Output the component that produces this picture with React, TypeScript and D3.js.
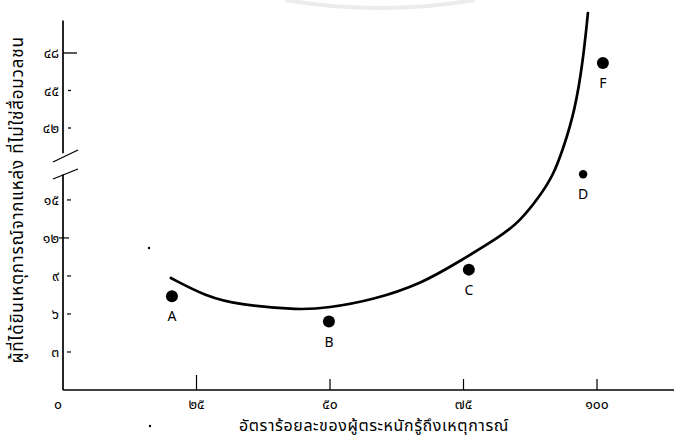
import React from "react";
import * as d3 from "d3";

const W = 674;
const H = 439;

const xTickValues = [0, 25, 50, 75, 100];
const xTickLabels = ["๐", "๒๕", "๕๐", "๗๕", "๑๐๐"];
const yLowTickValues = [3, 6, 9, 12, 15];
const yLowTickLabels = ["๓", "๖", "๙", "๑๒", "๑๕"];
const yHighTickValues = [42, 45, 48];
const yHighTickLabels = ["๔๒", "๔๕", "๔๘"];

const pointNames = ["A", "B", "C", "D", "F"];
const pointX = [20.4, 49.8, 76.0, 97.4, 101.1];
const pointY = [7.4, 5.4, 9.5, 17.4, 47.2];
const pointR = [6, 6, 6, 4.2, 6];

const curveX = [20.2, 26.9, 33.1, 44.4, 49.4, 58.1, 67.4, 73.7, 81.8, 85.6, 89.3, 91.8, 93.6, 95.9, 97.4, 98.3];
const curveY = [8.84, 7.36, 6.71, 6.31, 6.47, 7.1, 8.45, 10.02, 12.07, 13.33, 15.3, 16.95, 40.24, 43.44, 47.44, 51.2];

const xTitle = "อัตราร้อยละของผู้ตระหนักรู้ถึงเหตุการณ์";
const yTitle = "ผู้ที่ได้ยินเหตุการณ์จากแหล่ง ที่ไม่ใช่สื่อมวลชน";

const FONT = "'Noto Sans Thai', 'Loma', 'Garuda', 'Tlwg Typo', 'DejaVu Sans', sans-serif";

export default function App() {
  const x = d3.scaleLinear().domain([0, 100]).range([63, 597]);
  // broken axis: lower segment 0..17, gap, upper segment 40..51
  const y = d3.scaleLinear().domain([0, 17, 40, 51]).range([390, 174.6, 153, 15.5]);

  const line = d3
    .line<number>()
    .x((_, i) => x(curveX[i]))
    .y((_, i) => y(curveY[i]))
    .curve(d3.curveBasis);
  const pathD = line(curveX) || "";

  const axisX = x(0);

  return (
    <svg
      width={W}
      height={H}
      style={{ position: "absolute", left: 0, top: 0, background: "#fff" }}
      fontFamily={FONT}
    >
      <rect width={W} height={H} fill="#fff" />
      {/* faint scan artifact arc at top */}
      <path d="M 285 0 Q 380 16 475 0" fill="none" stroke="#ececec" strokeWidth={4} />

      {/* y axis segments */}
      <line x1={axisX} x2={axisX} y1={y(50.6)} y2={y(39.8)} stroke="#000" strokeWidth={1.7} />
      <line x1={axisX} x2={axisX} y1={y(17)} y2={y(0)} stroke="#000" strokeWidth={1.7} />
      {/* break marks */}
      <line x1={53} y1={162} x2={78} y2={150} stroke="#000" strokeWidth={1.3} />
      <line x1={53} y1={179} x2={78} y2={169} stroke="#000" strokeWidth={1.3} />

      {/* x axis */}
      <line x1={axisX} x2={W} y1={y(0)} y2={y(0)} stroke="#000" strokeWidth={1.7} />
      {xTickValues.slice(1).map((v, i) => (
        <line
          key={"xt" + v}
          x1={x(v)}
          x2={x(v)}
          y1={y(0)}
          y2={y(0) - (i === 0 ? 15 : 11)}
          stroke="#000"
          strokeWidth={1.2}
        />
      ))}
      {xTickValues.map((v, i) => (
        <text
          key={"xl" + v}
          x={v === 0 ? x(v) - 5 : x(v)}
          y={409}
          textAnchor="middle"
          fontSize={14}
          fill="#000"
        >
          {xTickLabels[i]}
        </text>
      ))}

      {/* lower y ticks */}
      {yLowTickValues.map((v, i) => (
        <g key={"yl" + v}>
          <line
            x1={v === 12 ? axisX - 4 : axisX + 4}
            x2={v === 12 ? axisX + 6 : axisX + 8}
            y1={y(v)}
            y2={y(v)}
            stroke="#000"
            strokeWidth={1.2}
          />
          <text x={59} y={y(v) + 5} textAnchor="end" fontSize={14} fill="#000">
            {yLowTickLabels[i]}
          </text>
        </g>
      ))}
      {/* upper y ticks */}
      {yHighTickValues.map((v, i) => (
        <g key={"yh" + v}>
          <line
            x1={v === 48 ? axisX : axisX + 5}
            x2={v === 48 ? axisX + 14 : axisX + 8}
            y1={y(v)}
            y2={y(v)}
            stroke="#000"
            strokeWidth={1.3}
          />
          <text x={59} y={y(v) + 5} textAnchor="end" fontSize={14} fill="#000">
            {yHighTickLabels[i]}
          </text>
        </g>
      ))}

      {/* fitted curve */}
      <path d={pathD} fill="none" stroke="#000" strokeWidth={2.7} strokeLinecap="round" />

      {/* points */}
      {pointNames.map((n, i) => (
        <g key={n}>
          <circle cx={x(pointX[i])} cy={y(pointY[i])} r={pointR[i]} fill="#000" />
          <text
            x={x(pointX[i])}
            y={y(pointY[i]) + 25}
            textAnchor="middle"
            fontSize={14}
            fill="#000"
          >
            {n}
          </text>
        </g>
      ))}

      {/* stray dots */}
      <circle cx={149} cy={248} r={1.2} fill="#000" />
      <circle cx={150} cy={426} r={1.2} fill="#000" />

      {/* titles */}
      <text x={374} y={431} textAnchor="middle" fontSize={16} letterSpacing={0.6} fill="#000">
        {xTitle}
      </text>
      <text
        transform={`translate(23, 200) rotate(-90)`}
        textAnchor="middle"
        fontSize={17}
        letterSpacing={0.8}
        fill="#000"
      >
        {yTitle}
      </text>
    </svg>
  );
}
